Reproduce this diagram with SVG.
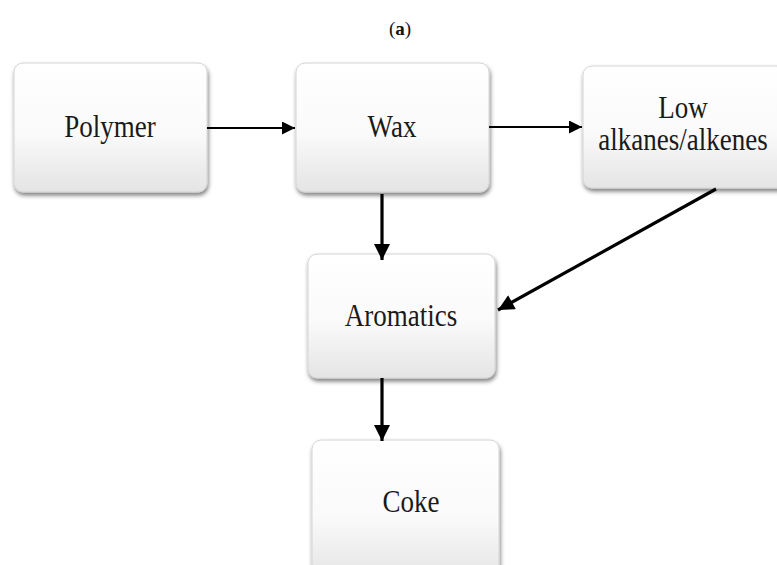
<svg xmlns="http://www.w3.org/2000/svg" width="777" height="565" viewBox="0 0 777 565">
<defs>
<linearGradient id="g" x1="0" y1="0" x2="0" y2="1">
<stop offset="0" stop-color="#ffffff"/>
<stop offset="0.55" stop-color="#fafafa"/>
<stop offset="1" stop-color="#e4e4e4"/>
</linearGradient>
<filter id="sh" x="-10%" y="-10%" width="125%" height="130%">
<feGaussianBlur in="SourceAlpha" stdDeviation="2"/>
<feOffset dx="1" dy="3" result="b"/>
<feComponentTransfer><feFuncA type="linear" slope="0.5"/></feComponentTransfer>
<feMerge><feMergeNode/><feMergeNode in="SourceGraphic"/></feMerge>
</filter>
<marker id="ah" viewBox="0 0 10 10" refX="10" refY="5" markerUnits="userSpaceOnUse" markerWidth="15" markerHeight="13" orient="auto">
<path d="M0,0 L10,5 L0,10 Z" fill="#000"/>
</marker>
<marker id="ahb" viewBox="0 0 10 10" refX="10" refY="5" markerUnits="userSpaceOnUse" markerWidth="17" markerHeight="16" orient="auto">
<path d="M0,0 L10,5 L0,10 Z" fill="#000"/>
</marker>
</defs>
<style>
.box{fill:url(#g);stroke:#d4d4d4;stroke-width:1;filter:url(#sh)}
.t{font-family:"Liberation Serif","Times New Roman",serif;font-size:27px;fill:#1a1a1a;text-anchor:middle}
.c{stroke:#000;fill:none}
</style>
<rect width="777" height="565" fill="#fff"/>
<text x="400" y="35" font-family="'Liberation Serif','Times New Roman',serif" font-size="19" text-anchor="middle" fill="#111">(<tspan font-weight="bold">a</tspan>)</text>
<g id="polymer">
<rect class="box" x="14" y="63" width="193" height="129" rx="9"/>
<text class="t" transform="translate(110,137) scale(1,1.17)">Polymer</text>
</g>
<g id="wax">
<rect class="box" x="296" y="63" width="193" height="129" rx="9"/>
<text class="t" transform="translate(392,137) scale(1,1.17)">Wax</text>
</g>
<g id="low">
<rect class="box" x="583" y="66" width="210" height="122" rx="9"/>
<text class="t" transform="translate(683,118) scale(1,1.17)">Low</text>
<text class="t" transform="translate(683,150) scale(1,1.17)">alkanes/alkenes</text>
</g>
<g id="aromatics">
<rect class="box" x="308" y="254" width="187" height="124" rx="9"/>
<text class="t" transform="translate(401,326) scale(1,1.17)">Aromatics</text>
</g>
<g id="coke">
<rect class="box" x="312" y="440" width="187" height="140" rx="9"/>
<text class="t" transform="translate(411,512) scale(1,1.17)">Coke</text>
</g>
<g id="connectors">
<line class="c" x1="207" y1="128" x2="295" y2="128" stroke-width="2.2" marker-end="url(#ah)"/>
<line class="c" x1="489" y1="127" x2="582" y2="127" stroke-width="2.2" marker-end="url(#ah)"/>
<line class="c" x1="382" y1="194" x2="382" y2="260" stroke-width="3.2" marker-end="url(#ahb)"/>
<line class="c" x1="382" y1="378" x2="382" y2="441" stroke-width="3.2" marker-end="url(#ahb)"/>
<line class="c" x1="716" y1="189" x2="498" y2="310" stroke-width="3.2" marker-end="url(#ahb)"/>
</g>
</svg>
